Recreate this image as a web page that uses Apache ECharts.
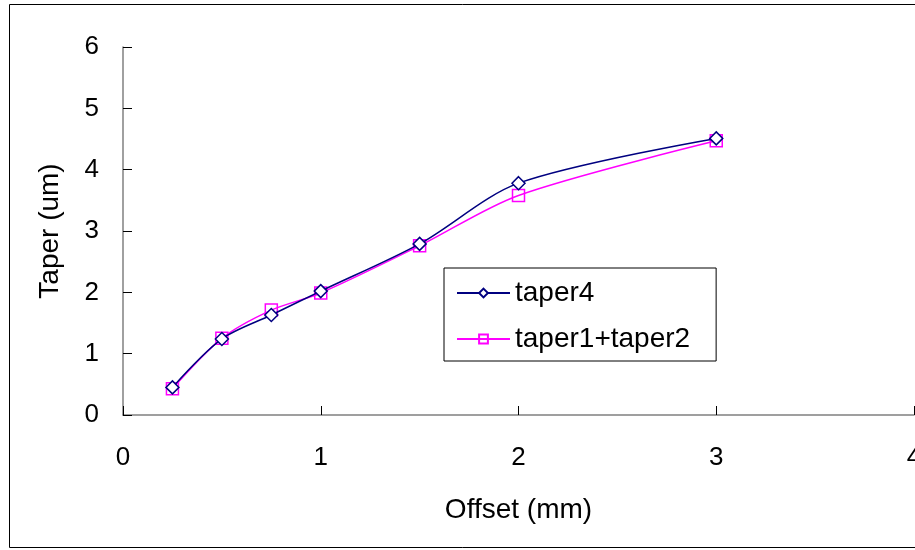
<!DOCTYPE html>
<html>
<head>
<meta charset="utf-8">
<script src="https://cdn.jsdelivr.net/npm/echarts@6/dist/echarts.min.js"></script>
<style>
  html, body { margin: 0; padding: 0; background: #fff; }
  #chart { width: 915px; height: 550px; }
</style>
</head>
<body>
<div id="chart"></div>
<script>
// Offsets (mm) and measured taper (um)
const offsets = [0.25, 0.5, 0.75, 1, 1.5, 2, 3];
const taper4 = [0.45, 1.24, 1.63, 2.02, 2.79, 3.78, 4.51];
const taper12 = [0.43, 1.25, 1.71, 1.99, 2.76, 3.58, 4.47];
const xTicks = [0, 1, 2, 3, 4];
const yTicks = [0, 1, 2, 3, 4, 5, 6];

const font = 'Liberation Sans, Arial, sans-serif';
const pair = (xs, ys) => xs.map((x, i) => [x, ys[i]]);

const chart = echarts.init(document.getElementById('chart'), null, { renderer: 'canvas' });
chart.setOption({
  animation: false,
  backgroundColor: '#ffffff',
  textStyle: { fontFamily: font },
  graphic: [{
    type: 'rect',
    shape: { x: 9.5, y: 4.5, width: 920, height: 543 },
    style: { fill: 'none', stroke: '#000', lineWidth: 1 },
    silent: true,
    z: -1
  }],
  grid: {
    left: 123, top: 47, width: 791, height: 368,
    containLabel: false, outerBoundsMode: 'none'
  },
  xAxis: {
    type: 'value',
    min: xTicks[0], max: xTicks[xTicks.length - 1], interval: 1,
    name: 'Offset (mm)', nameLocation: 'middle', nameGap: 81,
    nameTextStyle: { fontSize: 28, color: '#000', fontFamily: font },
    axisLine: { lineStyle: { color: '#808080', width: 1.5 } },
    axisTick: { inside: true, length: 9, lineStyle: { color: '#000' } },
    axisLabel: { fontSize: 26, color: '#000', margin: 30, fontFamily: font },
    splitLine: { show: false }
  },
  yAxis: {
    type: 'value',
    min: yTicks[0], max: yTicks[yTicks.length - 1], interval: 1,
    name: 'Taper (um)', nameLocation: 'middle', nameGap: 59,
    nameTextStyle: { fontSize: 28, color: '#000', fontFamily: font },
    axisLine: { lineStyle: { color: '#808080', width: 1.5 } },
    axisTick: { inside: true, length: 9, lineStyle: { color: '#000' } },
    axisLabel: { fontSize: 26, color: '#000', margin: 24, fontFamily: font },
    splitLine: { show: false }
  },
  legend: {
    orient: 'vertical',
    left: 444, top: 268,
    padding: [11, 26, 8, 12],
    itemGap: 18,
    itemWidth: 53, itemHeight: 11,
    borderColor: '#000', borderWidth: 1,
    backgroundColor: '#fff',
    textStyle: { fontSize: 28, color: '#000', fontFamily: font },
    data: ['taper4', 'taper1+taper2']
  },
  series: [
    {
      name: 'taper4', type: 'line', smooth: 0.3,
      data: pair(offsets, taper4),
      symbol: 'diamond', symbolSize: 13,
      lineStyle: { color: '#000080', width: 1.5 },
      itemStyle: { color: '#fff', borderColor: '#000080', borderWidth: 1.5 },
      z: 3
    },
    {
      name: 'taper1+taper2', type: 'line', smooth: 0.3,
      data: pair(offsets, taper12),
      symbol: 'rect', symbolSize: 12,
      lineStyle: { color: '#ff00ff', width: 1.5 },
      itemStyle: { color: 'rgba(255,255,255,0)', borderColor: '#ff00ff', borderWidth: 1.5 },
      z: 2
    }
  ]
});
</script>
</body>
</html>
